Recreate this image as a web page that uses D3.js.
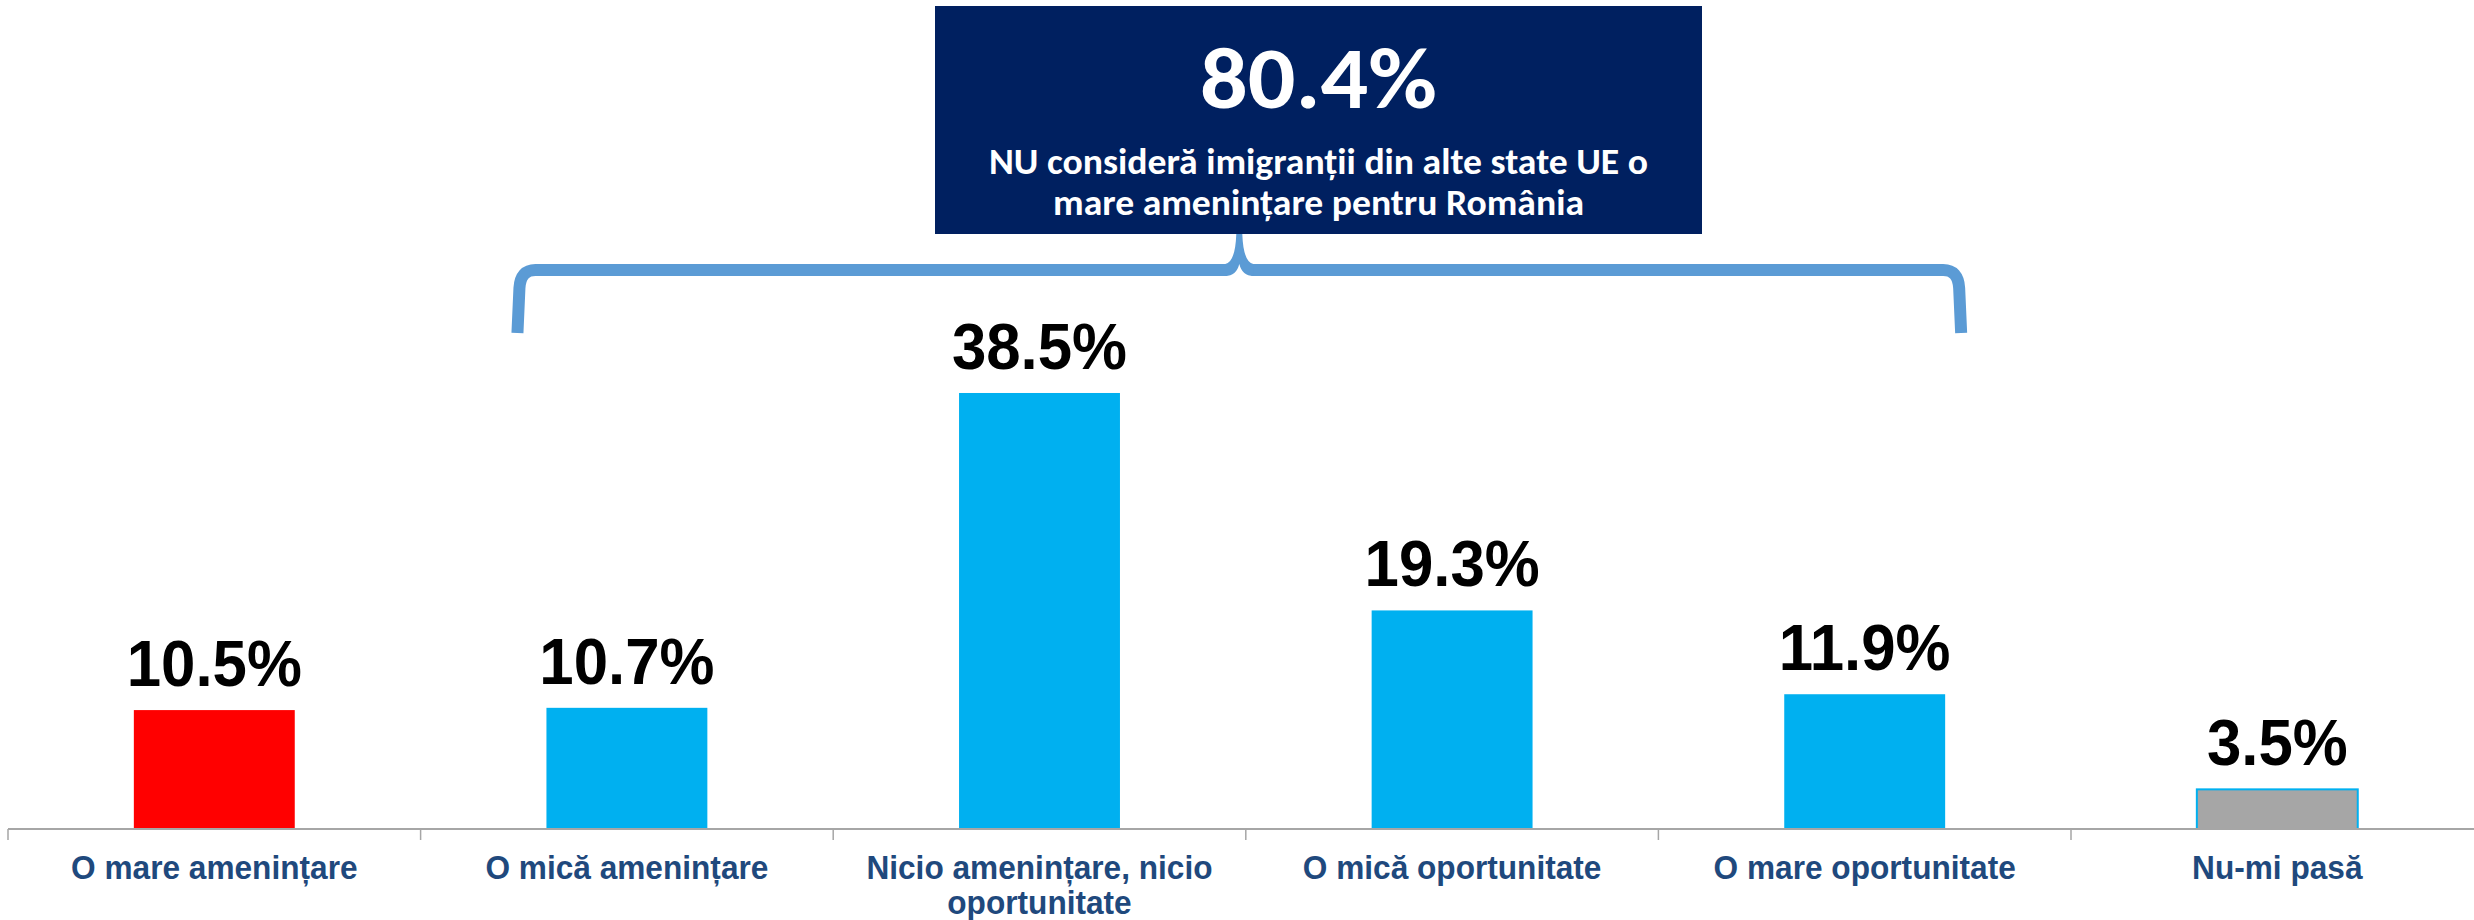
<!DOCTYPE html>
<html>
<head>
<meta charset="utf-8">
<script src="https://cdn.jsdelivr.net/npm/d3@7/dist/d3.min.js"></script>
<style>
  html, body { margin: 0; padding: 0; background: #fff; }
  svg { display: block; }
</style>
</head>
<body>
<svg id="chart" width="2474" height="920"></svg>
<script>
// ---- Data ----
const categories = [
  "O mare amenințare",
  "O mică amenințare",
  "Nicio amenințare, nicio oportunitate",
  "O mică oportunitate",
  "O mare oportunitate",
  "Nu-mi pasă"
];
const categoryLines = [
  ["O mare amenințare"],
  ["O mică amenințare"],
  ["Nicio amenințare, nicio", "oportunitate"],
  ["O mică oportunitate"],
  ["O mare oportunitate"],
  ["Nu-mi pasă"]
];
const values = [10.5, 10.7, 38.5, 19.3, 11.9, 3.5];
const barColors = ["#ff0000", "#00b0f0", "#00b0f0", "#00b0f0", "#00b0f0", "#a6a6a6"];
const summaryValue = "80.4%";
const summaryLines = ["NU consideră imigranții din alte state UE o", "mare amenințare pentru România"];
const braceFrom = "O mică amenințare";
const braceTo = "O mare oportunitate";

// ---- Layout ----
const W = 2474, H = 920;
const svg = d3.select("#chart");
svg.append("rect").attr("width", W).attr("height", H).attr("fill", "#fff");

function condense(sel, ratio) {
  sel.each(function () {
    const n = this.getComputedTextLength();
    d3.select(this).attr("textLength", n * ratio).attr("lengthAdjust", "spacingAndGlyphs");
  });
}

const baseY = 829;
const x = d3.scaleBand().domain(categories).range([8, 8 + 6 * 412.6])
  .paddingInner(0.61).paddingOuter(0.305);
const y = d3.scaleLinear().domain([0, 40]).range([baseY, 376]);

// Bars
svg.append("g").selectAll("rect").data(categories).join("rect")
  .attr("x", d => x(d))
  .attr("y", (d, i) => y(values[i]))
  .attr("width", x.bandwidth())
  .attr("height", (d, i) => y(0) - y(values[i]))
  .attr("fill", (d, i) => barColors[i])
  .attr("stroke", (d, i) => i === 5 ? "#00b0f0" : "none")
  .attr("stroke-width", 2);

// Axis line and ticks (between categories)
const axisG = svg.append("g");
const step = x.step();
const x0 = x.range()[0];
axisG.append("line")
  .attr("x1", x0).attr("x2", W)
  .attr("y1", baseY).attr("y2", baseY)
  .attr("stroke", "#a6a6a6").attr("stroke-width", 2);
d3.range(categories.length + 1).forEach(k => {
  axisG.append("line")
    .attr("x1", x0 + k * step).attr("x2", x0 + k * step)
    .attr("y1", baseY).attr("y2", baseY + 11)
    .attr("stroke", "#a6a6a6").attr("stroke-width", 1.5);
});

// Value labels
const valLabels = svg.append("g").selectAll("text").data(categories).join("text")
  .attr("x", d => x(d) + x.bandwidth() / 2)
  .attr("y", (d, i) => y(values[i]) - 24)
  .attr("text-anchor", "middle")
  .attr("font-family", "'Liberation Sans', Arial, sans-serif")
  .attr("font-weight", "bold")
  .attr("font-size", 65)
  .attr("fill", "#000")
  .text((d, i) => values[i].toFixed(1) + "%");
condense(valLabels, 0.95);

// Category labels
const catG = svg.append("g");
categories.forEach((c, i) => {
  const cxp = x(c) + x.bandwidth() / 2;
  categoryLines[i].forEach((ln, j) => {
    catG.append("text")
      .attr("x", cxp)
      .attr("y", 879 + j * 35)
      .attr("text-anchor", "middle")
      .attr("font-family", "'Liberation Sans', Arial, sans-serif")
      .attr("font-weight", "bold")
      .attr("font-size", 34)
      .attr("fill", "#1f497d")
      .text(ln);
  });
});
condense(catG.selectAll("text"), 0.93);

// Brace
const bl = x(braceFrom) - 29;
const br = x(braceTo) + x.bandwidth() + 16;
const bm = (bl + br) / 2;
const by = 270, legBottom = 333, boxBottom = 234;
const braceColor = "#5b9bd5";
svg.append("path")
  .attr("d", `M${bl},${legBottom} L${bl + 2},${by + 18} Q${bl + 3},${by} ${bl + 18},${by} L${bm - 12},${by}`
    + ` M${bm + 12},${by} L${br - 18},${by} Q${br - 3},${by} ${br - 2},${by + 18} L${br},${legBottom}`)
  .attr("fill", "none")
  .attr("stroke", braceColor)
  .attr("stroke-width", 12);
svg.append("path")
  .attr("d", `M${bm - 14},${by - 6} Q${bm - 4},${by - 8} ${bm - 3},${boxBottom}`
    + ` L${bm + 3},${boxBottom} Q${bm + 4},${by - 8} ${bm + 14},${by - 6}`
    + ` L${bm + 14},${by + 6} Q${bm + 3},${by + 6} ${bm},${by - 6} Q${bm - 3},${by + 6} ${bm - 14},${by + 6} Z`)
  .attr("fill", braceColor);

// Summary box
const boxX = 935, boxY = 6, boxW = 767, boxH = boxBottom - boxY;
svg.append("rect")
  .attr("x", boxX).attr("y", boxY).attr("width", boxW).attr("height", boxH)
  .attr("fill", "#002060");
const cx = boxX + boxW / 2;
const boxFont = "Calibri, Carlito, Lato, 'Noto Sans', sans-serif";
svg.append("text")
  .attr("x", cx).attr("y", 108)
  .attr("text-anchor", "middle")
  .attr("font-family", boxFont).attr("font-weight", "bold")
  .attr("font-size", 88).attr("fill", "#fff")
  .attr("textLength", 237).attr("lengthAdjust", "spacingAndGlyphs")
  .text(summaryValue);
const subLens = [659, 531];
const subY = [174, 215];
summaryLines.forEach((ln, i) => {
  svg.append("text")
    .attr("x", cx).attr("y", subY[i])
    .attr("text-anchor", "middle")
    .attr("font-family", boxFont).attr("font-weight", "bold")
    .attr("font-size", 37).attr("fill", "#fff")
    .attr("textLength", subLens[i]).attr("lengthAdjust", "spacingAndGlyphs")
    .text(ln);
});
</script>
</body>
</html>
